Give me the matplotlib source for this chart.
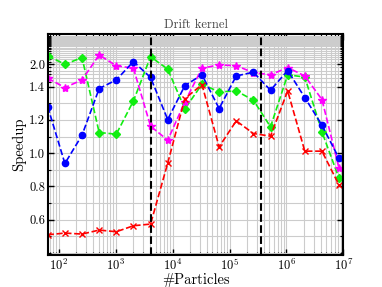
import numpy as np
import matplotlib
matplotlib.use("Agg")
import matplotlib.pyplot as plt
from matplotlib.ticker import FixedLocator

plt.rcParams['font.family'] = ['serif']
plt.rcParams['font.serif'] = ['cmr10', 'DejaVu Serif']
plt.rcParams['mathtext.fontset'] = 'cm'
plt.rcParams['axes.formatter.use_mathtext'] = True

# particle counts 2^6 .. 2^23
particles = [2 ** k for k in range(6, 24)]

speedup_green = [2.34, 2.00, 2.26, 1.124, 1.114, 1.314, 2.30, 1.84, 1.266,
                 1.45, 1.368, 1.374, 1.318, 1.158, 1.68, 1.62, 1.128, 0.848]
speedup_magenta = [1.59, 1.394, 1.55, 2.38, 1.95, 1.87, 1.162, 1.078, 1.308,
                   1.87, 1.98, 1.95, 1.74, 1.68, 1.89, 1.65, 1.322, 0.908]
speedup_blue = [1.278, 0.938, 1.108, 1.388, 1.55, 2.10, 1.61, 1.202, 1.42,
                1.68, 1.268, 1.65, 1.75, 1.378, 1.80, 1.334, 1.168, 0.968]
speedup_red = [0.510, 0.520, 0.514, 0.538, 0.528, 0.564, 0.574, 0.94, 1.328,
               1.44, 1.038, 1.194, 1.118, 1.102, 1.374, 1.012, 1.012, 0.808]

cache_lines = [4096, 3.6e5]
yticks = [0.6, 0.8, 1.0, 1.2, 1.4, 2.0]
yminor = [round(0.4 + 0.1 * k, 1) for k in range(37)]

# y axis: linear up to 1.4, compressed above
A, L, Y0 = 0.34, 1.2, 1.4


def fwd(y):
    y = np.asarray(y, dtype=float)
    return np.where(y <= Y0, y, Y0 + A * (1 - np.exp(-(y - Y0) / L)))


def inv(t):
    t = np.asarray(t, dtype=float)
    r = np.clip((t - Y0) / A, None, 0.999999)
    return np.where(t <= Y0, t, Y0 - L * np.log(1 - r))


fig = plt.figure(figsize=(3.82, 2.87), dpi=100)
ax = fig.add_axes([0.125, 0.1125, 0.774, 0.7705])

ax.plot(particles, speedup_green, '--', color='#11ee11', marker='D', ms=4.5, lw=1.2)
ax.plot(particles, speedup_magenta, '--', color='magenta', marker='*', ms=6, lw=1.2)
ax.plot(particles, speedup_blue, '--', color='blue', marker='o', ms=4.5, lw=1.2)
ax.plot(particles, speedup_red, '--', color='red', marker='x', ms=5, lw=1.2, mew=1)

for xc in cache_lines:
    ax.axvline(xc, color='black', ls='--', lw=1.5)

ax.set_xscale('log')
ax.set_yscale('function', functions=(fwd, inv))
ax.set_xlim(64, 1e7)
ax.set_ylim(0.39, 4.7)
ax.yaxis.set_major_locator(FixedLocator(yticks))
ax.yaxis.set_major_formatter(plt.FuncFormatter(lambda v, p: '%.1f' % v))
ax.yaxis.set_minor_locator(FixedLocator(yminor))

ax.grid(True, which='both', color='#cccccc', lw=0.8)
ax.set_axisbelow(True)
ax.tick_params(which='both', direction='in', top=True, right=True, labelsize=9)
ax.tick_params(which='major', length=4, width=1, pad=2)
ax.tick_params(which='minor', length=2, width=0.8)
for s in ax.spines.values():
    s.set_linewidth(1.5)

ax.set_title('Drift kernel', fontsize=9, color='#444444', pad=4)
ax.set_xlabel('#Particles', fontsize=10.5, labelpad=0)
ax.set_ylabel('Speedup', fontsize=10.5, labelpad=2)

fig.savefig('out.png', dpi=100)
